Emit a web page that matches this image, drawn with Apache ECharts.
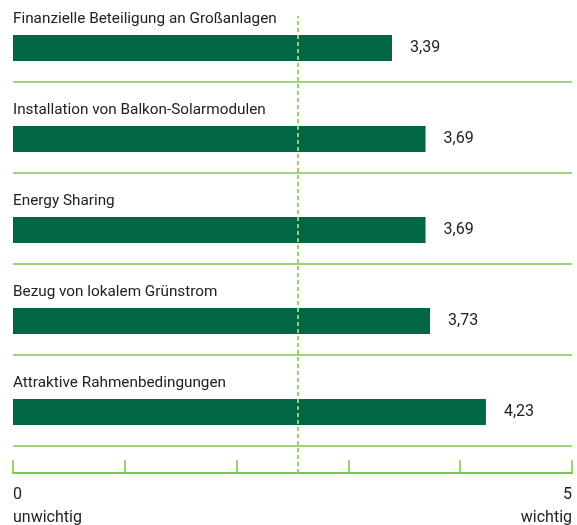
<!DOCTYPE html>
<html>
<head>
<meta charset="utf-8">
<style>html,body{margin:0;padding:0;background:#fff}#c{width:577px;height:525px}</style>
<script src="https://cdn.jsdelivr.net/npm/echarts@6/dist/echarts.min.js"></script>
</head>
<body>
<div id="c"></div>
<script>
var categories = ['Finanzielle Beteiligung an Großanlagen','Installation von Balkon-Solarmodulen','Energy Sharing','Bezug von lokalem Grünstrom','Attraktive Rahmenbedingungen'];
var values = [3.39, 3.69, 3.69, 3.73, 4.23];
var referenceValue = 2.55;
var axisMin = 0, axisMax = 5;
var minLabel = 'unwichtig', maxLabel = 'wichtig';

var barColor = '#006644';
var lineColor = '#7cc54e';
var textColor = '#222';
var font = 'Roboto';

var chart = echarts.init(document.getElementById('c'));
chart.setOption({
  animation: false,
  grid: [
    {left: 13, right: 5, top: 2.5, height: 455, outerBoundsMode: 'none', containLabel: false},
    {left: 13, right: 5, top: -9, height: 455, outerBoundsMode: 'none', containLabel: false},
    {left: 13, right: 5, top: 16, height: 457, outerBoundsMode: 'none', containLabel: false}
  ],
  xAxis: [
    {gridIndex: 0, type: 'value', min: axisMin, max: axisMax, show: false},
    {gridIndex: 1, type: 'value', min: axisMin, max: axisMax, interval: 1, offset: 27,
     axisLine: {show: true, lineStyle: {color: lineColor, width: 2}},
     axisTick: {show: true, inside: true, length: 13, lineStyle: {color: lineColor, width: 1.5}},
     splitLine: {show: false},
     axisLabel: {show: true, margin: 10, color: textColor, fontFamily: font, fontSize: 16, lineHeight: 23,
       alignMinLabel: 'left', alignMaxLabel: 'right',
       formatter: function(v){ if (v === axisMin) return axisMin + '\n' + minLabel; if (v === axisMax) return axisMax + '\n' + maxLabel; return ''; }}},
    {gridIndex: 2, type: 'value', min: axisMin, max: axisMax, show: false}
  ],
  yAxis: [
    {gridIndex: 0, type: 'category', inverse: true, data: categories,
     axisLine: {show: false}, axisTick: {show: false}, splitLine: {show: false},
     axisLabel: {inside: true, margin: 0, color: textColor, fontFamily: font, fontSize: 15.3, verticalAlign: 'bottom', padding: [0,0,21,0]}},
    {gridIndex: 1, type: 'category', inverse: true, data: categories,
     axisLine: {show: false}, axisTick: {show: false}, axisLabel: {show: false},
     splitLine: {show: true, showMinLine: false, lineStyle: {color: lineColor, width: 1.5}}},
    {gridIndex: 2, type: 'value', min: 0, max: 1, show: false}
  ],
  series: [
    {type: 'bar', xAxisIndex: 0, yAxisIndex: 0, data: values, barWidth: 26,
     itemStyle: {color: barColor},
     label: {show: true, position: 'right', distance: 18, color: textColor, fontFamily: font, fontSize: 16,
       formatter: function(p){ return p.value.toFixed(2).replace('.', ','); }}},
    {type: 'line', xAxisIndex: 2, yAxisIndex: 2, data: [], z: 10,
     markLine: {silent: true, symbol: 'none', label: {show: false},
       lineStyle: {color: '#8fd46a', width: 2, type: [4, 3]},
       data: [{xAxis: referenceValue}]}}
  ]
});
</script>
</body>
</html>
